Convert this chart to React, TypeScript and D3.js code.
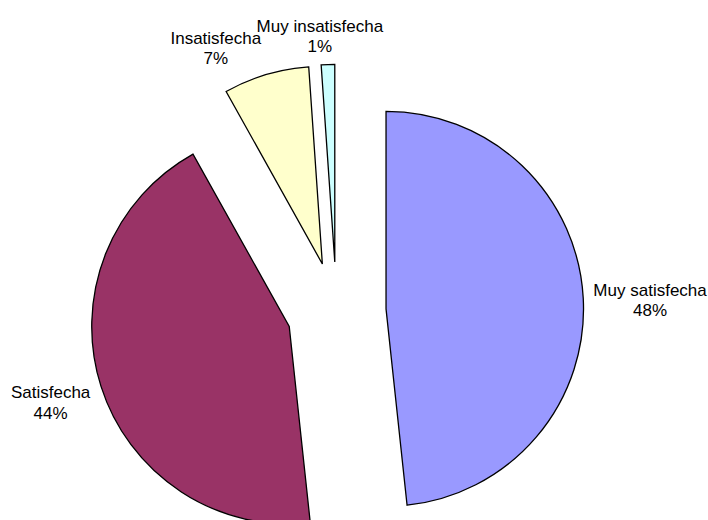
import React from "react";
import * as d3 from "d3";

const categories = ["Muy satisfecha", "Satisfecha", "Insatisfecha", "Muy insatisfecha"];
const values = [48.3, 43.6, 7.0, 1.1];
const percentLabels = ["48%", "44%", "7%", "1%"];
const colors = ["#9999FF", "#993366", "#FFFFCC", "#CCFFFF"];

const W = 708;
const H = 520;
const CX = 336.5;
const CY = 311.5;
const R = 197.5;
const EXPLODE = 49.6;
const LABEL_R = [312, 300, 290, 278];
const LABEL_NUDGE: [number, number][] = [[2, 5], [0, 0], [-38, 14], [-7, 2]];

export default function App() {
  const pie = d3.pie<number>().sort(null).startAngle(0).endAngle(2 * Math.PI)(values);
  const arc = d3.arc<d3.PieArcDatum<number>>().innerRadius(0).outerRadius(R);
  return (
    <svg width={W} height={H} style={{ position: "absolute", left: 0, top: 0 }}>
      <rect width={W} height={H} fill="#fff" />
      {pie.map((p, i) => {
        const mid = (p.startAngle + p.endAngle) / 2;
        const dx = Math.sin(mid) * EXPLODE;
        const dy = -Math.cos(mid) * EXPLODE;
        return (
          <path
            key={i}
            d={arc(p) || ""}
            transform={`translate(${CX + dx},${CY + dy})`}
            fill={colors[i]}
            stroke="#000"
            strokeWidth={1.3}
            strokeLinejoin="miter"
          />
        );
      })}
      {pie.map((p, i) => {
        const mid = (p.startAngle + p.endAngle) / 2;
        const x = CX + Math.sin(mid) * LABEL_R[i] + LABEL_NUDGE[i][0];
        const y = CY - Math.cos(mid) * LABEL_R[i] + LABEL_NUDGE[i][1];
        return (
          <text
            key={"l" + i}
            x={x}
            y={y}
            textAnchor="middle"
            fontFamily="'Liberation Sans', Arial, sans-serif"
            fontSize={17}
            fill="#000"
          >
            <tspan x={x} dy={-4}>{categories[i]}</tspan>
            <tspan x={x} dy={20.5}>{percentLabels[i]}</tspan>
          </text>
        );
      })}
    </svg>
  );
}
